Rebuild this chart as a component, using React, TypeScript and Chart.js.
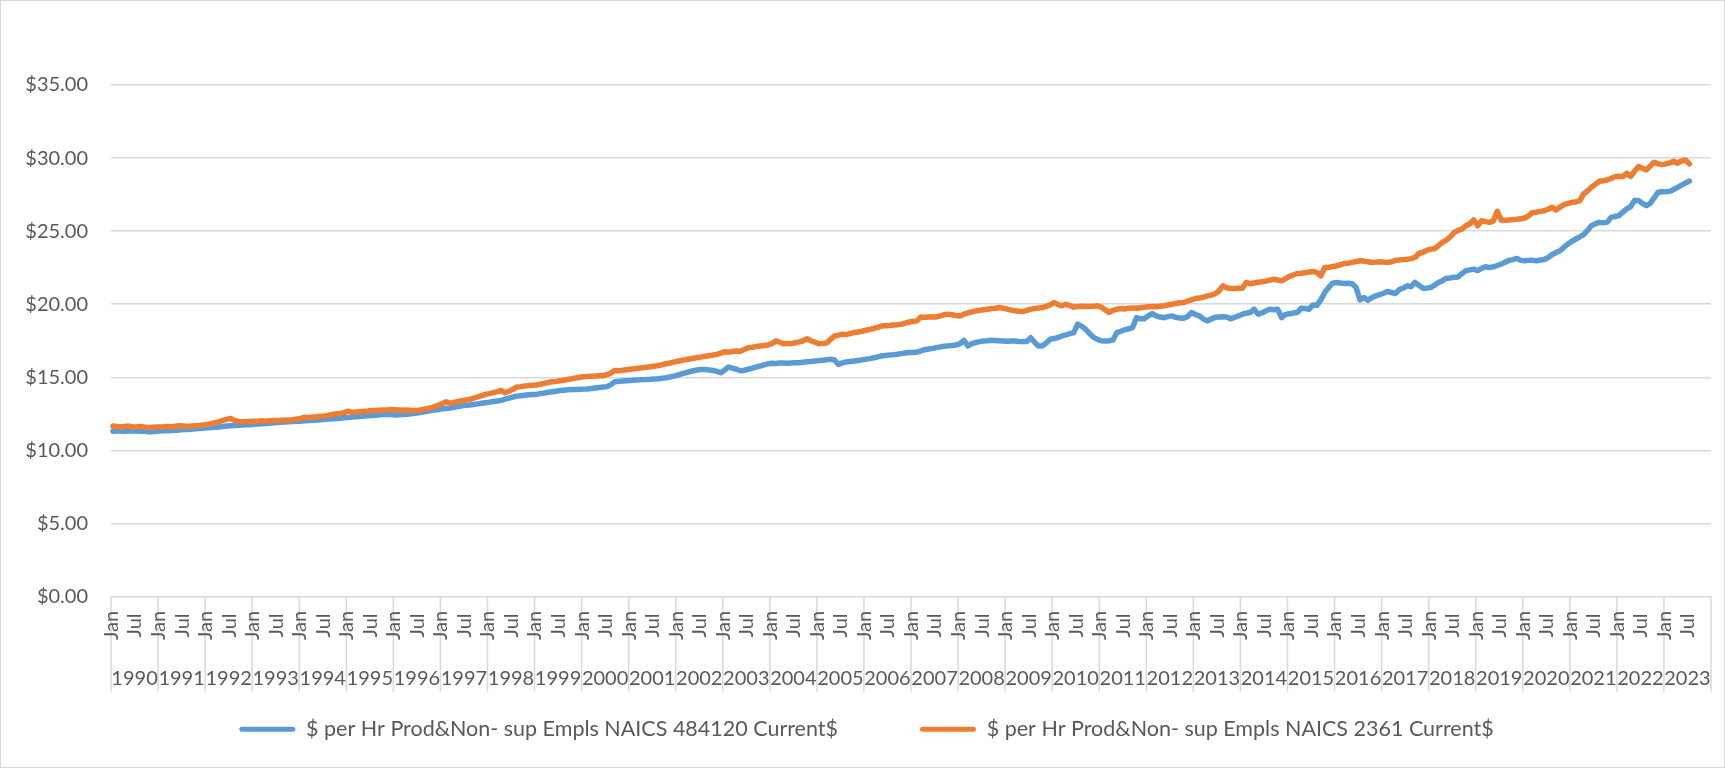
import { useEffect, useRef } from "react";
import { Chart, registerables } from "chart.js";

Chart.register(...registerables);

const years = [
  1990, 1991, 1992, 1993, 1994, 1995, 1996, 1997, 1998, 1999, 2000, 2001,
  2002, 2003, 2004, 2005, 2006, 2007, 2008, 2009, 2010, 2011, 2012, 2013,
  2014, 2015, 2016, 2017, 2018, 2019, 2020, 2021, 2022, 2023,
];
const monthNames = ["Jan", "Feb", "Mar", "Apr", "May", "Jun", "Jul", "Aug", "Sep", "Oct", "Nov", "Dec"];
const shownMonths = ["Jan", "Jul"];

// $ per Hr Prod&Non- sup Empls NAICS 484120 Current$ (monthly, Jan 1990 - Jul 2023)
const wages484120 = [
  11.30, 11.32, 11.33, 11.30, 11.32, 11.34, 11.33, 11.31, 11.30, 11.28, 11.27, 11.30,
  11.32, 11.34, 11.35, 11.36, 11.38, 11.40, 11.42, 11.43, 11.45, 11.47, 11.49, 11.52,
  11.54, 11.56, 11.58, 11.60, 11.63, 11.66, 11.68, 11.70, 11.72, 11.73, 11.75, 11.76,
  11.78, 11.80, 11.82, 11.84, 11.86, 11.88, 11.90, 11.92, 11.94, 11.95, 11.97, 11.99,
  12.00, 12.02, 12.04, 12.06, 12.08, 12.10, 12.12, 12.14, 12.16, 12.18, 12.20, 12.23,
  12.25, 12.28, 12.30, 12.32, 12.35, 12.37, 12.39, 12.41, 12.43, 12.45, 12.47, 12.45,
  12.42, 12.44, 12.45, 12.47, 12.50, 12.53, 12.57, 12.62, 12.67, 12.72, 12.76, 12.80,
  12.84, 12.87, 12.90, 12.95, 13.00, 13.05, 13.08, 13.10, 13.14, 13.18, 13.22, 13.26,
  13.30, 13.34, 13.38, 13.42, 13.50, 13.58, 13.65, 13.71, 13.74, 13.77, 13.80, 13.82,
  13.83, 13.88, 13.93, 13.97, 14.01, 14.05, 14.09, 14.12, 14.15, 14.16, 14.17, 14.18,
  14.19, 14.20, 14.23, 14.27, 14.30, 14.33, 14.36, 14.50, 14.70, 14.72, 14.74, 14.76,
  14.78, 14.81, 14.82, 14.84, 14.85, 14.86, 14.88, 14.90, 14.93, 14.97, 15.02, 15.08,
  15.15, 15.24, 15.30, 15.38, 15.45, 15.50, 15.54, 15.53, 15.50, 15.47, 15.40, 15.31,
  15.50, 15.70, 15.62, 15.55, 15.45, 15.48, 15.55, 15.62, 15.70, 15.77, 15.85, 15.92,
  15.96, 15.95, 15.97, 15.98, 15.96, 15.98, 16.00, 16.00, 16.03, 16.06, 16.08, 16.11,
  16.14, 16.17, 16.20, 16.23, 16.18, 15.89, 15.98, 16.05, 16.08, 16.11, 16.15, 16.19,
  16.23, 16.28, 16.34, 16.40, 16.46, 16.50, 16.53, 16.55, 16.58, 16.62, 16.66, 16.70,
  16.70, 16.73, 16.80, 16.89, 16.94, 16.98, 17.03, 17.08, 17.12, 17.15, 17.18, 17.21,
  17.30, 17.53, 17.14, 17.30, 17.38, 17.44, 17.48, 17.50, 17.53, 17.52, 17.50, 17.48,
  17.46, 17.48, 17.48, 17.45, 17.44, 17.45, 17.71, 17.40, 17.14, 17.14, 17.35, 17.60,
  17.65, 17.72, 17.83, 17.90, 17.98, 18.06, 18.63, 18.50, 18.29, 18.00, 17.75, 17.60,
  17.50, 17.48, 17.50, 17.55, 18.06, 18.15, 18.25, 18.32, 18.40, 19.08, 19.00, 19.00,
  19.20, 19.36, 19.20, 19.12, 19.08, 19.15, 19.20, 19.10, 19.05, 19.04, 19.15, 19.43,
  19.30, 19.20, 19.00, 18.86, 18.98, 19.10, 19.12, 19.14, 19.12, 19.00, 19.10, 19.20,
  19.32, 19.38, 19.43, 19.66, 19.32, 19.40, 19.55, 19.66, 19.62, 19.66, 19.08, 19.30,
  19.35, 19.40, 19.43, 19.73, 19.70, 19.66, 19.95, 19.92, 20.30, 20.80, 21.15, 21.44,
  21.49, 21.45, 21.42, 21.44, 21.40, 21.14, 20.30, 20.45, 20.27, 20.45, 20.57, 20.65,
  20.75, 20.87, 20.80, 20.73, 21.00, 21.10, 21.26, 21.20, 21.49, 21.30, 21.10, 21.10,
  21.14, 21.30, 21.49, 21.60, 21.78, 21.80, 21.85, 21.87, 22.10, 22.29, 22.35, 22.40,
  22.30, 22.45, 22.56, 22.50, 22.56, 22.65, 22.74, 22.88, 23.00, 23.05, 23.13, 23.00,
  22.98, 23.00, 23.00, 22.98, 23.02, 23.06, 23.20, 23.40, 23.54, 23.66, 23.90, 24.12,
  24.30, 24.46, 24.60, 24.76, 25.05, 25.37, 25.50, 25.60, 25.58, 25.60, 25.94, 26.00,
  26.06, 26.30, 26.52, 26.67, 27.09, 27.09, 26.90, 26.74, 26.90, 27.27, 27.66, 27.70,
  27.70, 27.73, 27.85, 28.00, 28.15, 28.30, 28.43,
];

// $ per Hr Prod&Non- sup Empls NAICS 2361 Current$ (monthly, Jan 1990 - Jul 2023)
const wages2361 = [
  11.66, 11.64, 11.60, 11.63, 11.66, 11.62, 11.60, 11.64, 11.60, 11.57, 11.58, 11.60,
  11.60, 11.62, 11.64, 11.62, 11.65, 11.68, 11.66, 11.64, 11.66, 11.68, 11.70, 11.73,
  11.77, 11.82, 11.89, 11.95, 12.05, 12.12, 12.18, 12.05, 11.98, 11.96, 11.97, 11.98,
  12.00, 12.00, 12.02, 12.00, 12.03, 12.05, 12.04, 12.06, 12.08, 12.06, 12.10, 12.14,
  12.20, 12.27, 12.25, 12.28, 12.30, 12.34, 12.36, 12.40, 12.45, 12.50, 12.52, 12.58,
  12.68, 12.60, 12.62, 12.65, 12.68, 12.70, 12.73, 12.72, 12.75, 12.77, 12.78, 12.80,
  12.78, 12.76, 12.74, 12.76, 12.73, 12.72, 12.75, 12.80, 12.85, 12.90, 13.00, 13.10,
  13.20, 13.32, 13.22, 13.28, 13.35, 13.40, 13.45, 13.49, 13.58, 13.66, 13.75, 13.83,
  13.88, 13.95, 14.02, 14.10, 13.94, 14.05, 14.18, 14.33, 14.36, 14.40, 14.43, 14.45,
  14.47, 14.52, 14.58, 14.64, 14.70, 14.72, 14.76, 14.80, 14.86, 14.90, 14.95, 15.00,
  15.04, 15.06, 15.07, 15.08, 15.10, 15.11, 15.18, 15.30, 15.47, 15.45, 15.48, 15.52,
  15.55, 15.58, 15.62, 15.65, 15.68, 15.72, 15.76, 15.80, 15.86, 15.93, 15.98, 16.04,
  16.10, 16.16, 16.20, 16.25, 16.30, 16.35, 16.39, 16.44, 16.48, 16.52, 16.57, 16.65,
  16.75, 16.72, 16.76, 16.80, 16.78, 16.90, 17.03, 17.06, 17.10, 17.14, 17.18, 17.21,
  17.30, 17.49, 17.40, 17.30, 17.32, 17.30, 17.36, 17.42, 17.50, 17.64, 17.50, 17.40,
  17.30, 17.32, 17.35, 17.60, 17.83, 17.88, 17.95, 17.92, 18.00, 18.06, 18.10, 18.15,
  18.22, 18.28, 18.35, 18.42, 18.51, 18.53, 18.55, 18.58, 18.60, 18.63, 18.70, 18.78,
  18.82, 18.86, 19.13, 19.10, 19.12, 19.14, 19.13, 19.20, 19.28, 19.32, 19.28, 19.22,
  19.20, 19.32, 19.40, 19.48, 19.54, 19.58, 19.62, 19.66, 19.70, 19.72, 19.77, 19.72,
  19.66, 19.60, 19.55, 19.52, 19.50, 19.58, 19.66, 19.70, 19.74, 19.77, 19.85, 19.95,
  20.11, 19.98, 19.89, 20.00, 19.90, 19.80, 19.84, 19.86, 19.85, 19.84, 19.86, 19.89,
  19.80, 19.62, 19.43, 19.58, 19.66, 19.70, 19.68, 19.72, 19.75, 19.72, 19.76, 19.80,
  19.82, 19.84, 19.82, 19.86, 19.90, 19.95, 20.00, 20.05, 20.10, 20.12, 20.20, 20.30,
  20.39, 20.42, 20.48, 20.55, 20.62, 20.70, 20.90, 21.26, 21.12, 21.07, 21.08, 21.10,
  21.10, 21.49, 21.40, 21.45, 21.50, 21.53, 21.58, 21.65, 21.71, 21.66, 21.60, 21.75,
  21.90, 22.00, 22.10, 22.12, 22.15, 22.20, 22.24, 22.18, 21.94, 22.51, 22.52, 22.58,
  22.62, 22.70, 22.79, 22.80, 22.86, 22.92, 22.97, 22.95, 22.90, 22.86, 22.88, 22.90,
  22.88, 22.85, 22.90, 23.00, 23.02, 23.05, 23.08, 23.12, 23.20, 23.47, 23.55, 23.68,
  23.77, 23.80, 24.00, 24.23, 24.39, 24.60, 24.91, 25.05, 25.14, 25.37, 25.50, 25.76,
  25.37, 25.71, 25.65, 25.60, 25.70, 26.35, 25.76, 25.75, 25.76, 25.80, 25.82, 25.85,
  25.90, 26.05, 26.28, 26.30, 26.35, 26.40, 26.50, 26.63, 26.45, 26.65, 26.81, 26.90,
  26.97, 27.00, 27.08, 27.54, 27.75, 28.00, 28.20, 28.41, 28.45, 28.50, 28.60, 28.73,
  28.75, 28.73, 28.96, 28.75, 29.10, 29.42, 29.30, 29.19, 29.45, 29.71, 29.60, 29.55,
  29.60, 29.67, 29.78, 29.65, 29.80, 29.87, 29.60,
];

const seriesNames = [
  "$ per Hr Prod&Non- sup Empls NAICS 484120 Current$",
  "$ per Hr Prod&Non- sup Empls NAICS 2361 Current$",
];

const categories = years.flatMap((y) => monthNames.map((m) => `${m} ${y}`));

const FONT = "Lato, 'Open Sans', 'DejaVu Sans', sans-serif";
const TEXT = "#595959";
const GRID = "#d9d9d9";
const BLUE = "#5B9BD5";
const ORANGE = "#ED7D31";

const multiLevelAxis = {
  id: "multiLevelAxis",
  afterDraw(chart: any) {
    const { ctx, chartArea } = chart;
    const x = chart.scales.x;
    const w = x.getPixelForValue(1) - x.getPixelForValue(0);
    const bottom = chartArea.bottom;
    ctx.save();
    ctx.strokeStyle = GRID;
    ctx.lineWidth = 1.5;
    for (let i = 0; i <= categories.length; i += 12) {
      const bx = x.getPixelForValue(i) - w / 2;
      ctx.beginPath();
      ctx.moveTo(bx, bottom);
      ctx.lineTo(bx, bottom + 95);
      ctx.stroke();
    }
    ctx.fillStyle = TEXT;
    ctx.font = `20px ${FONT}`;
    ctx.textAlign = "center";
    ctx.textBaseline = "middle";
    categories.forEach((_, i) => {
      const m = monthNames[i % 12];
      if (!shownMonths.includes(m)) return;
      ctx.save();
      ctx.translate(x.getPixelForValue(i) - 1.5, bottom + 29);
      ctx.rotate(-Math.PI / 2);
      ctx.fillText(m, 0, 0);
      ctx.restore();
    });
    years.forEach((y, k) => {
      const cx = x.getPixelForValue(k * 12) - w / 2 + 6 * w;
      ctx.fillText(String(y), cx, bottom + 82);
    });
    ctx.lineWidth = 1;
    ctx.strokeRect(0.5, 0.5, chart.width - 1, chart.height - 1);
    ctx.restore();
  },
};

export default function App() {
  const ref = useRef<HTMLCanvasElement | null>(null);

  useEffect(() => {
    document.body.style.margin = "0";
    if (!ref.current) return;
    Chart.defaults.font.family = FONT;
    const chart = new Chart(ref.current, {
      type: "line",
      data: {
        labels: categories,
        datasets: [
          {
            label: seriesNames[0],
            data: wages484120,
            borderColor: BLUE,
            backgroundColor: BLUE,
            borderWidth: 5.5,
            pointRadius: 0,
            borderCapStyle: "round",
            borderJoinStyle: "round",
            tension: 0,
            order: 1,
          },
          {
            label: seriesNames[1],
            data: wages2361,
            borderColor: ORANGE,
            backgroundColor: ORANGE,
            borderWidth: 5.5,
            pointRadius: 0,
            borderCapStyle: "round",
            borderJoinStyle: "round",
            tension: 0,
            order: 0,
          },
        ],
      },
      options: {
        responsive: false,
        animation: false,
        devicePixelRatio: 1,
        events: [],
        layout: { padding: { top: 85, right: 14, bottom: 18, left: 22 } },
        scales: {
          x: {
            type: "category",
            offset: true,
            grid: { display: false },
            border: { display: false },
            ticks: { display: false },
            afterFit: (s: any) => {
              s.height = 40;
            },
          },
          y: {
            min: 0,
            max: 35,
            border: { display: false },
            grid: { color: GRID, lineWidth: 1.5, drawTicks: false },
            ticks: {
              stepSize: 5,
              padding: 23,
              color: TEXT,
              font: { size: 20, family: FONT },
              callback: (v: any) => "$" + Number(v).toFixed(2),
            },
            afterFit: (s: any) => {
              s.width = 89;
            },
          },
        },
        plugins: {
          tooltip: { enabled: false },
          legend: {
            position: "bottom",
            labels: {
              boxWidth: 56,
              boxHeight: 5,
              padding: 82,
              color: TEXT,
              font: { size: 21.5, family: FONT },
              generateLabels: (c: any) =>
                Chart.defaults.plugins.legend.labels
                  .generateLabels(c)
                  .sort((a: any, b: any) => a.datasetIndex - b.datasetIndex)
                  .map((it: any) => ({ ...it, fillStyle: it.strokeStyle, lineWidth: 0, borderRadius: 2.5 })),
            },
          },
        },
      },
      plugins: [multiLevelAxis],
    });
    return () => chart.destroy();
  }, []);

  return (
    <div style={{ width: 1725, height: 768 }}>
      <canvas ref={ref} width={1725} height={768} style={{ display: "block" }} />
    </div>
  );
}
